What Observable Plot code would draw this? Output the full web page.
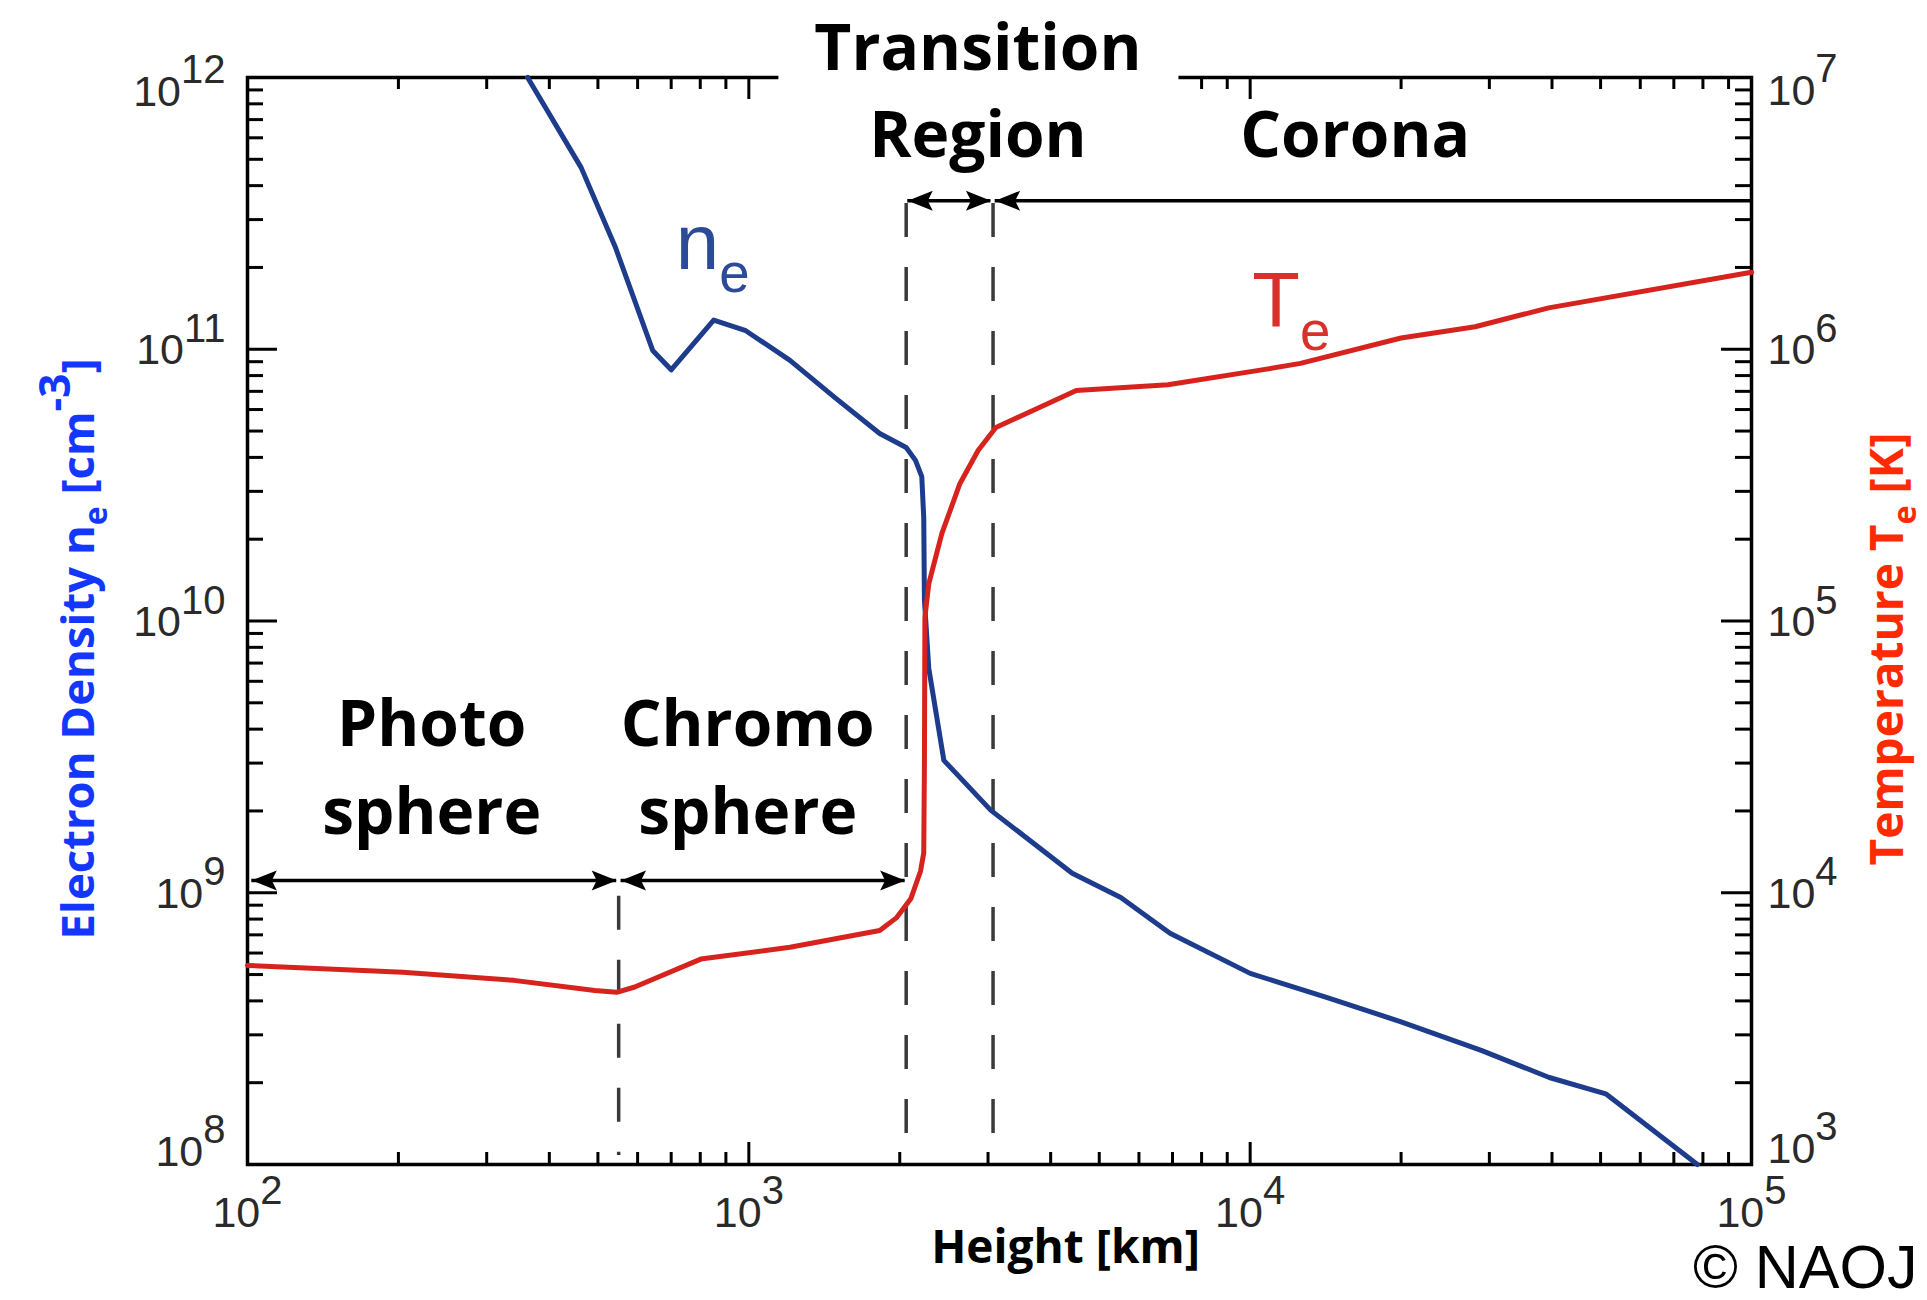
<!DOCTYPE html>
<html>
<head>
<meta charset="utf-8">
<script src="https://cdn.jsdelivr.net/npm/d3@7"></script>
<script src="https://cdn.jsdelivr.net/npm/@observablehq/plot@0.6"></script>
<style>
  html, body { margin: 0; padding: 0; background: #fff; }
  #chart svg { display: block; }
</style>
</head>
<body>
<div id="chart"></div>
<script>
// ---------------- data ----------------
// Electron density n_e [cm^-3] vs height [km]
const neHeight = [362, 463, 541, 643, 700, 851, 986, 1208, 1483, 1824, 2060, 2150, 2213, 2233, 2240, 2285, 2449, 3040, 4416, 5520, 6920, 10000, 14200, 20000, 28900, 39500, 51200, 78000];
const neValue  = [1.0e12, 4.66e11, 2.39e11, 9.9e10, 8.4e10, 1.28e11, 1.17e11, 9.1e10, 6.65e10, 4.9e10, 4.35e10, 3.9e10, 3.4e10, 2.4e10, 1.2e10, 6.7e9, 3.07e9, 2.01e9, 1.18e9, 9.6e8, 7.1e8, 5.05e8, 4.12e8, 3.35e8, 2.63e8, 2.09e8, 1.82e8, 1.0e8];

// Electron temperature T_e [K] vs height [km]
const teHeight = [100, 204, 340, 493, 545, 592, 802, 1208, 1824, 1972, 2104, 2200, 2233, 2240, 2245, 2285, 2427, 2636, 2866, 3110, 4500, 6855, 10400, 12600, 20000, 28100, 39400, 100000];
const teValue  = [5.4e3, 5.1e3, 4.76e3, 4.37e3, 4.3e3, 4.5e3, 5.7e3, 6.3e3, 7.26e3, 8.1e3, 9.5e3, 1.2e4, 1.4e4, 3.0e4, 1.03e5, 1.37e5, 2.1e5, 3.2e5, 4.24e5, 5.15e5, 7.05e5, 7.4e5, 8.36e5, 8.87e5, 1.1e6, 1.21e6, 1.42e6, 1.92e6];

// Right axis (10^3..10^7 K) spans the same height as the left axis (10^8..10^12 cm^-3)
const T_TO_N = 1e5;

// Axis ticks
const xMajor = [1e2, 1e3, 1e4, 1e5];
const xMinor = [200, 300, 400, 500, 600, 700, 800, 900, 2000, 3000, 4000, 5000, 6000, 7000, 8000, 9000, 20000, 30000, 40000, 50000, 60000, 70000, 80000, 90000];
const nMajor = [1e8, 1e9, 1e10, 1e11, 1e12];
const nMinor = [2e8, 3e8, 4e8, 5e8, 6e8, 7e8, 8e8, 9e8, 2e9, 3e9, 4e9, 5e9, 6e9, 7e9, 8e9, 9e9, 2e10, 3e10, 4e10, 5e10, 6e10, 7e10, 8e10, 9e10, 2e11, 3e11, 4e11, 5e11, 6e11, 7e11, 8e11, 9e11];
const tMajor = [1e3, 1e4, 1e5, 1e6, 1e7];
const tMinor = [2e3, 3e3, 4e3, 5e3, 6e3, 7e3, 8e3, 9e3, 2e4, 3e4, 4e4, 5e4, 6e4, 7e4, 8e4, 9e4, 2e5, 3e5, 4e5, 5e5, 6e5, 7e5, 8e5, 9e5, 2e6, 3e6, 4e6, 5e6, 6e6, 7e6, 8e6, 9e6];

// Region boundaries (dashed lines): height, top end (n units), bottom end
const boundaryHeight = [550, 2060, 3070];
const boundaryTop    = [9.7e8, 3.44e11, 3.44e11];
const boundaryBottom = [1.08e8, 1.08e8, 1.08e8];

// Region arrows: start/end heights, level (n units), heads
const arrowFrom  = [102, 556, 2075, 3100];
const arrowTo    = [545, 2050, 3040, 1e5];
const arrowLevel = [1.11e9, 1.11e9, 3.52e11, 3.52e11];
const arrowHeadRight = [true, true, true, false];

// Region names and their anchor (centre, baseline of last line)
const regionName  = ["Photo\nsphere", "Chromo\nsphere", "Transition\nRegion", "Corona"];
const regionH     = [233, 995, 2864, 16200];
const regionN     = [1.65e9, 1.65e9, 5.08e11, 5.08e11];

// Curve labels
const curveLabel  = ["n_{e}", "T_{e}"];
const curveLabelH = [715, 10100];
const curveLabelN = [1.98e11, 1.21e11];
const curveLabelColor = ["#2c4a98", "#d8302a"];

// White box behind the "Transition Region" label
const boxX = [1148, 7210];
const boxY = [2.2e12, 4.74e11];

// ---------------- build ----------------
const neRows = neHeight.map((h, i) => ({h, n: neValue[i]}));
const teRows = teHeight.map((h, i) => ({h, T: teValue[i]}));
const boundaries = boundaryHeight.map((h, i) => ({h, top: boundaryTop[i], bottom: boundaryBottom[i]}));
const arrows = arrowFrom.map((a, i) => ({from: a, to: arrowTo[i], y: arrowLevel[i], right: arrowHeadRight[i]}));
const heads = [];
for (const a of arrows) {
  heads.push({h: a.from, y: a.y, angle: 180});
  if (a.right) heads.push({h: a.to, y: a.y, angle: 0});
}
const regions = regionName.map((t, i) => ({t, h: regionH[i], n: regionN[i]}));
const cLabels = curveLabel.map((t, i) => ({t, h: curveLabelH[i], n: curveLabelN[i], c: curveLabelColor[i]}));

const WIDTH = 1927, HEIGHT = 1300;
const mL = 247, mR = 176, mT = 77, mB = 136;
const W = WIDTH - mL - mR, H = HEIGHT - mT - mB;

const exp = d => Math.round(Math.log10(d));
const tickFont = "'Liberation Sans', Arial, Helvetica, sans-serif";
const boldFont = "'Open Sans', 'Noto Sans', sans-serif";

// arrowhead symbol: tip at origin, pointing +x
const stealth = {
  draw(ctx, size) {
    const r = Math.sqrt(size / Math.PI);
    const L = r * 2.5, Wd = r * 1.0;
    ctx.moveTo(0, 0);
    ctx.lineTo(-L, -Wd);
    ctx.lineTo(-L * 0.8, 0);
    ctx.lineTo(-L, Wd);
    ctx.closePath();
  }
};

const tickStyle = {stroke: "black", strokeWidth: 3};
const tickLabel = {fontSize: 43, fontFamily: tickFont, fill: "#2a2a2a", lineAnchor: "bottom", ariaLabel: "tick-label"};

const plot = Plot.plot({
  width: WIDTH,
  height: HEIGHT,
  marginLeft: mL, marginRight: mR, marginTop: mT, marginBottom: mB,
  x: {type: "log", domain: [1e2, 1e5], axis: null},
  y: {type: "log", domain: [1e8, 1e12], axis: null},
  style: {background: "white"},
  marks: [
    Plot.frame({stroke: "black", strokeWidth: 3.5}),
    // inward ticks
    Plot.tickX(xMajor, {x: d => d, insetBottom: H - 22, ...tickStyle}),
    Plot.tickX(xMinor, {x: d => d, insetBottom: H - 12, ...tickStyle}),
    Plot.tickX(xMajor, {x: d => d, insetTop: H - 22, ...tickStyle}),
    Plot.tickX(xMinor, {x: d => d, insetTop: H - 12, ...tickStyle}),
    Plot.tickY(nMajor, {y: d => d, insetRight: W - 30, ...tickStyle}),
    Plot.tickY(nMinor, {y: d => d, insetRight: W - 16, ...tickStyle}),
    Plot.tickY(tMajor, {y: d => d * T_TO_N, insetLeft: W - 30, ...tickStyle}),
    Plot.tickY(tMinor, {y: d => d * T_TO_N, insetLeft: W - 16, ...tickStyle}),
    // white box behind "Transition Region"
    Plot.rect([0], {x1: () => boxX[0], x2: () => boxX[1], y1: () => boxY[0], y2: () => boxY[1], fill: "white"}),
    // boundaries
    Plot.ruleX(boundaries, {x: "h", y1: "top", y2: "bottom", stroke: "#3a3a3a", strokeWidth: 3.5, strokeDasharray: "34,30"}),
    // arrows
    Plot.ruleY(arrows, {y: "y", x1: "from", x2: "to", stroke: "black", strokeWidth: 3.5}),
    Plot.dot(heads, {x: "h", y: "y", rotate: "angle", symbol: stealth, r: 10, fill: "black", stroke: "none"}),
    // curves
    Plot.line(neRows, {x: "h", y: "n", stroke: "#1e3c8c", strokeWidth: 5, strokeLinejoin: "round"}),
    Plot.line(teRows, {x: "h", y: d => d.T * T_TO_N, stroke: "#d7231e", strokeWidth: 5, strokeLinejoin: "round"}),
    // curve labels
    Plot.text(cLabels, {x: "h", y: "n", text: "t", fill: "c", fontSize: 78, fontFamily: tickFont, textAnchor: "start", lineAnchor: "bottom", ariaLabel: "curve-label"}),
    // region labels
    Plot.text(regions, {x: "h", y: "n", text: "t", fill: "black", fontSize: 64, fontWeight: 700, fontFamily: boldFont, textAnchor: "middle", lineAnchor: "bottom", lineHeight: 1.37}),
    // tick labels, left
    Plot.text(nMajor.slice(1, -1), {y: d => d, frameAnchor: "left", textAnchor: "end", dx: -22, dy: 15, text: d => `10^{${exp(d)}}`, ...tickLabel}),
    Plot.text(nMajor.slice(-1), {y: d => d, frameAnchor: "left", textAnchor: "end", dx: -22, dy: 28, text: d => `10^{${exp(d)}}`, ...tickLabel}),
    Plot.text(nMajor.slice(0, 1), {y: d => d, frameAnchor: "left", textAnchor: "end", dx: -22, dy: 1, text: d => `10^{${exp(d)}}`, ...tickLabel}),
    // tick labels, right
    Plot.text(tMajor.slice(1, -1), {y: d => d * T_TO_N, frameAnchor: "right", textAnchor: "start", dx: 16, dy: 15, text: d => `10^{${exp(d)}}`, ...tickLabel}),
    Plot.text(tMajor.slice(-1), {y: d => d * T_TO_N, frameAnchor: "right", textAnchor: "start", dx: 16, dy: 27, text: d => `10^{${exp(d)}}`, ...tickLabel}),
    Plot.text(tMajor.slice(0, 1), {y: d => d * T_TO_N, frameAnchor: "right", textAnchor: "start", dx: 16, dy: -2, text: d => `10^{${exp(d)}}`, ...tickLabel}),
    // tick labels, bottom
    Plot.text(xMajor, {x: d => d, frameAnchor: "bottom", textAnchor: "middle", dy: 62, text: d => `10^{${exp(d)}}`, ...tickLabel}),
    // axis titles
    Plot.text(["Height [km]"], {frameAnchor: "bottom", text: d => d, textAnchor: "middle", lineAnchor: "bottom", dx: 66, dy: 98, fontSize: 46, fontWeight: 700, fontFamily: boldFont, fill: "black"}),
    Plot.text(["Electron Density n_{e} [cm^{-3}]"], {frameAnchor: "left", text: d => d, rotate: -90, textAnchor: "middle", lineAnchor: "bottom", dx: -154, dy: 28, fontSize: 45.5, fontWeight: 700, fontFamily: boldFont, fill: "#1437ff", ariaLabel: "axis-title"}),
    Plot.text(["Temperature T_{e} [K]"], {frameAnchor: "right", text: d => d, rotate: -90, textAnchor: "middle", lineAnchor: "bottom", dx: 151, dy: 28, fontSize: 46, fontWeight: 700, fontFamily: boldFont, fill: "#ff2a00", ariaLabel: "axis-title"}),
    // credit
    Plot.text(["© NAOJ"], {frameAnchor: "bottom-right", text: d => d, textAnchor: "end", lineAnchor: "bottom", dx: 166, dy: 123, fontSize: 61, fontFamily: tickFont, fill: "black"})
  ]
});

document.getElementById("chart").appendChild(plot);

// ---- superscript / subscript markup (^{..}, _{..}) -> tspans ----
const richParams = {
  "tick-label":  {sup: [0.93, 0.52], sub: [0.7, 0.3]},
  "curve-label": {sup: [0.75, 0.4], sub: [0.75, 0.34]},
  "axis-title":  {sup: [0.62, 0.42], sub: [0.62, 0.16]}
};
for (const t of plot.querySelectorAll("text")) {
  const s = t.textContent;
  if (!/[\^_]\{/.test(s) || t.querySelector("tspan")) continue;
  const g = t.closest("g[aria-label]");
  const p = richParams[g && g.getAttribute("aria-label")] || richParams["tick-label"];
  const fs = parseFloat(getComputedStyle(t).fontSize);
  t.textContent = "";
  let cur = 0;
  for (const part of s.split(/([\^_]\{[^}]*\})/)) {
    if (!part) continue;
    const span = document.createElementNS("http://www.w3.org/2000/svg", "tspan");
    let off = 0, text = part;
    if (part.startsWith("^{")) { text = part.slice(2, -1); span.setAttribute("font-size", fs * p.sup[0]); off = -fs * p.sup[1]; }
    else if (part.startsWith("_{")) { text = part.slice(2, -1); span.setAttribute("font-size", fs * p.sub[0]); off = fs * p.sub[1]; }
    if (off !== cur) span.setAttribute("dy", off - cur);
    cur = off;
    span.textContent = text;
    t.appendChild(span);
  }
}
</script>
</body>
</html>
